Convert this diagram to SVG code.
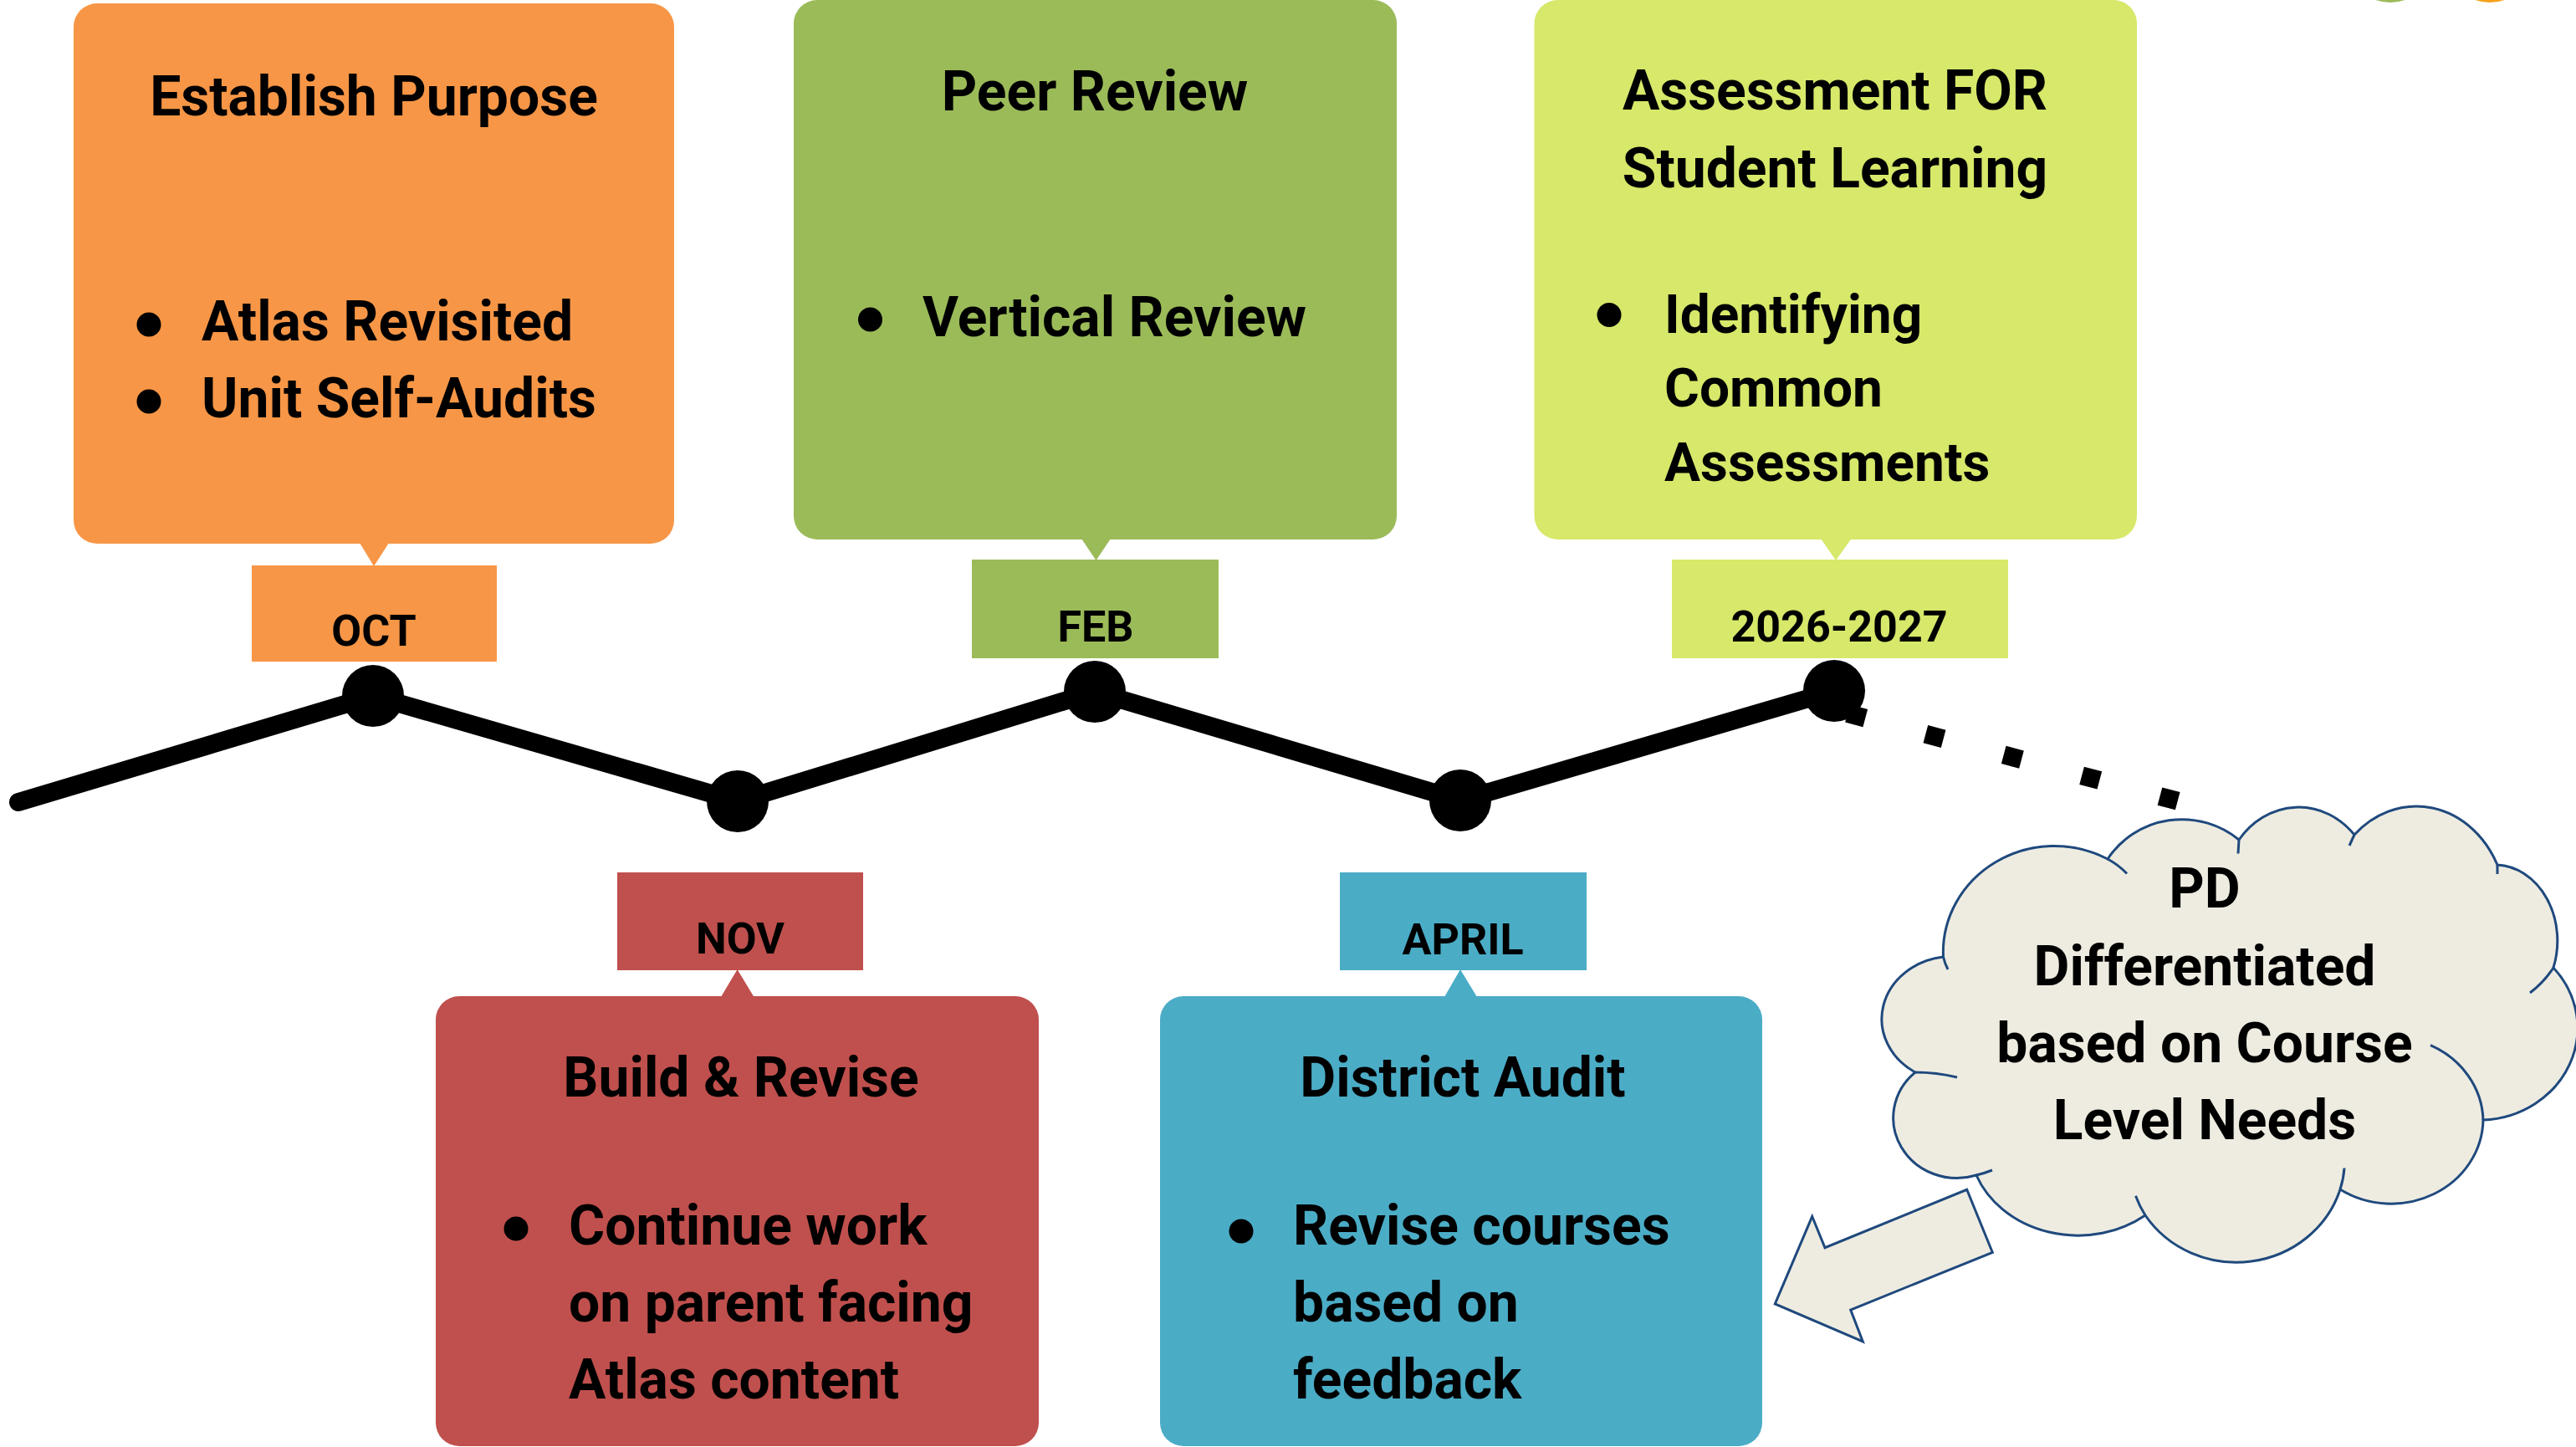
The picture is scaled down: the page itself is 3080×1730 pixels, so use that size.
<svg xmlns="http://www.w3.org/2000/svg" width="3080" height="1730" viewBox="0 0 3080 1730">
<style>
text{font-family:Roboto,"Liberation Sans",sans-serif;font-weight:bold;fill:#000}
.t{font-size:66px;text-anchor:middle}
.b{font-size:66px}
.b2{font-size:64px}
.l{font-size:52px;text-anchor:middle}
.or{fill:#F79646}.gr{fill:#9BBB59}.ye{fill:#D7E86A}.rd{fill:#C0504D}.bl{fill:#4BACC6}
.cl{fill:#EEECE1;stroke:#1F497D;stroke-width:3;stroke-linejoin:miter}
.hk{fill:none;stroke:#1F497D;stroke-width:3}
</style>
<rect width="3080" height="1730" fill="#ffffff"/>
<g id="logo">
<circle cx="2858" cy="-50" r="53" fill="#9BBB59"/>
<circle cx="2977" cy="-50" r="53" fill="#F7A21B"/>
</g>
<g id="connectors">
<polyline points="22,959 446,832 882,958 1309,827 1746,957 2193,826" fill="none" stroke="#000" stroke-width="22" stroke-linecap="round" stroke-linejoin="round"/>
<line x1="2209" y1="852.9" x2="2604" y2="957.8" stroke="#000" stroke-width="22" stroke-dasharray="22 74.6"/>
<circle cx="446" cy="832" r="37"/>
<circle cx="882" cy="958" r="37"/>
<circle cx="1309" cy="827" r="37"/>
<circle cx="1746" cy="957" r="37"/>
<circle cx="2193" cy="826" r="37"/>
<polygon class="cl" points="2351.7,1422.3 2382.3,1497.3 2212.7,1566 2227.3,1604 2122.3,1559 2166.7,1454.3 2182,1491.7"/>
</g>
<g id="oct">
<rect class="or" x="88" y="4" width="718" height="646" rx="28"/>
<polygon class="or" points="430,649 465,649 447,677"/>
<rect class="or" x="301" y="676" width="293" height="115"/>
<text class="t" x="447" y="138">Establish Purpose</text>
<circle cx="178" cy="388" r="14.5"/>
<circle cx="178" cy="480" r="14.5"/>
<text class="b" x="241" y="407">Atlas Revisited</text>
<text class="b" x="241" y="499">Unit Self-Audits</text>
<text class="l" x="447" y="772">OCT</text>
</g>
<g id="feb">
<rect class="gr" x="949" y="0" width="721" height="645" rx="28"/>
<polygon class="gr" points="1293,644 1328,644 1310.5,670"/>
<rect class="gr" x="1162" y="669" width="295" height="118"/>
<text class="t" x="1309" y="132">Peer Review</text>
<circle cx="1040.5" cy="382" r="14.5"/>
<text class="b" x="1103" y="402">Vertical Review</text>
<text class="l" x="1310" y="767">FEB</text>
</g>
<g id="y2026">
<rect class="ye" x="1834.5" y="0" width="720.5" height="645" rx="28"/>
<polygon class="ye" points="2177,644 2213.6,644 2195,670"/>
<rect class="ye" x="1999" y="669" width="402" height="118"/>
<text class="t" x="2194" y="131">Assessment FOR</text>
<text class="t" x="2194" y="224">Student Learning</text>
<circle cx="1924" cy="376.5" r="14.5"/>
<text class="b2" x="1990" y="398">Identifying</text>
<text class="b2" x="1990" y="486">Common</text>
<text class="b2" x="1990" y="575">Assessments</text>
<text class="l" x="2199" y="767">2026-2027</text>
</g>
<g id="nov">
<rect class="rd" x="521" y="1191" width="721" height="538" rx="28"/>
<polygon class="rd" points="862,1192 901.5,1192 881.6,1159"/>
<rect class="rd" x="738" y="1043" width="294" height="117"/>
<text class="l" x="885" y="1140">NOV</text>
<text class="t" x="886" y="1311">Build &amp; Revise</text>
<circle cx="617" cy="1469" r="14.5"/>
<text class="b" x="680" y="1488">Continue work</text>
<text class="b" x="680" y="1580">on parent facing</text>
<text class="b" x="680" y="1672">Atlas content</text>
</g>
<g id="april">
<rect class="bl" x="1387" y="1191" width="720" height="538" rx="28"/>
<polygon class="bl" points="1727,1192 1766,1192 1746,1159"/>
<rect class="bl" x="1602" y="1043" width="295" height="117"/>
<text class="l" x="1749" y="1141">APRIL</text>
<text class="t" x="1749" y="1311">District Audit</text>
<circle cx="1484" cy="1472" r="14.5"/>
<text class="b" x="1546" y="1488">Revise courses</text>
<text class="b" x="1546" y="1580">based on</text>
<text class="b" x="1546" y="1672">feedback</text>
</g>
<g id="cloud">
<path class="cl" d="M 2323.5 1144 A 133 127 0 0 1 2520 1027 A 106 104 0 0 1 2677 1004 A 90 100 0 0 1 2815 998 A 108 125 0 0 1 2986 1034 A 75 91 0 0 1 3053 1157 A 118 110 0 0 1 2969 1339 A 110 102 0 0 1 2798 1422 A 130 124 0 0 1 2565 1453 A 130 112 0 0 1 2363 1405 A 76 72 0 0 1 2290 1282 A 85 75 0 0 1 2323.5 1144 Z"/>
<path class="hk" d="M 2520 1027 Q 2533 1034 2543 1044.5 M 2676 1020.5 L 2677 1004 M 2809 1011 L 2815 998 M 2986 1034 L 2986 1045 M 3053 1157 Q 3042 1174 3025 1187 M 2906 1249.6 A 110 102 0 0 1 2969 1339 M 2803 1396.5 Q 2802 1410 2798 1422 M 2565 1453 Q 2558 1442 2553.5 1429.7 M 2382 1399 Q 2372 1403 2363 1405 M 2340 1288 Q 2315 1282 2290 1282 M 2329 1159 Q 2325 1151 2323.5 1144"/>
<text class="t" x="2636" y="1085">PD</text>
<text class="t" x="2636" y="1178">Differentiated</text>
<text class="t" x="2636" y="1270">based on Course</text>
<text class="t" x="2636" y="1362">Level Needs</text>
</g>
</svg>
